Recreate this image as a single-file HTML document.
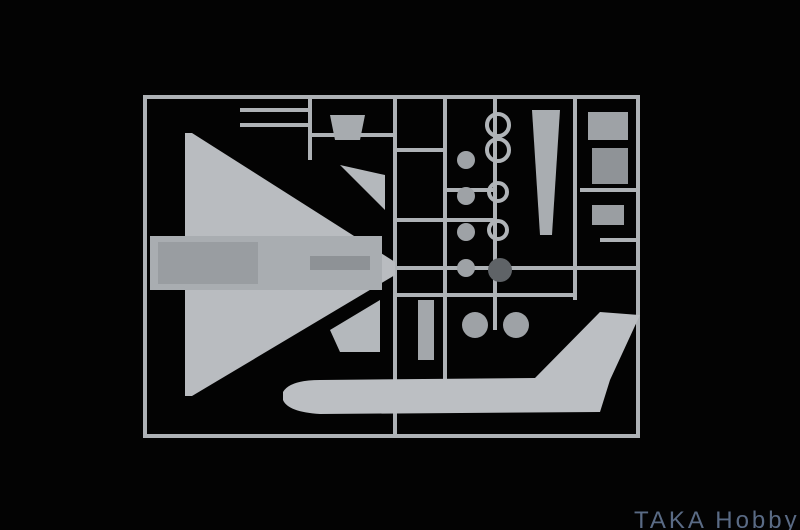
<!DOCTYPE html>
<html><head><style>
html,body{margin:0;padding:0;background:#000;}
svg{display:block}
</style></head><body>
<svg width="800" height="530" viewBox="0 0 800 530" xmlns="http://www.w3.org/2000/svg">
<rect width="800" height="530" fill="#030303"/>
<g stroke="#aeb2b6" stroke-width="4" fill="none">
<rect x="145" y="97" width="493" height="339"/>
<line x1="395" y1="97" x2="395" y2="436"/>
<line x1="445" y1="97" x2="445" y2="380"/>
<line x1="495" y1="97" x2="495" y2="330"/>
<line x1="575" y1="97" x2="575" y2="300"/>
<line x1="395" y1="268" x2="638" y2="268"/>
<line x1="395" y1="150" x2="445" y2="150"/>
<line x1="395" y1="220" x2="495" y2="220"/>
<line x1="395" y1="295" x2="575" y2="295"/>
<line x1="445" y1="190" x2="495" y2="190"/>
<line x1="310" y1="97" x2="310" y2="160"/>
<line x1="240" y1="110" x2="310" y2="110"/>
<line x1="240" y1="125" x2="310" y2="125"/>
<line x1="310" y1="135" x2="395" y2="135"/>
<line x1="380" y1="268" x2="395" y2="268"/>
<line x1="580" y1="190" x2="638" y2="190"/>
<line x1="600" y1="240" x2="638" y2="240"/>
</g>
<path d="M185 133 L192 133 L395 262 L395 275 L192 396 L185 396 Z" fill="#b9bcc0"/>
<rect x="150" y="236" width="232" height="54" fill="#a9adb1"/>
<rect x="158" y="242" width="100" height="42" fill="#999da1"/>
<rect x="310" y="256" width="60" height="14" fill="#8e9296"/>
<path d="M283 392 Q290 380 320 380 L535 378 L600 312 L640 315 L610 380 L600 412 L320 414 Q288 412 283 400 Z" fill="#bcbfc3"/>
<path d="M330 330 L380 300 L380 352 L340 352 Z" fill="#b4b8bc"/>
<path d="M340 165 L385 175 L385 210 Z" fill="#b4b8bc"/>
<path d="M330 115 L365 115 L360 140 L335 140 Z" fill="#a7abaf"/>
<g fill="#9ea2a6">
<circle cx="466" cy="160" r="9"/><circle cx="466" cy="196" r="9"/><circle cx="466" cy="232" r="9"/><circle cx="466" cy="268" r="9"/>
<circle cx="500" cy="270" r="12" fill="#5f6367"/>
<circle cx="475" cy="325" r="13"/><circle cx="516" cy="325" r="13"/>
</g>
<g fill="none" stroke="#b0b4b8" stroke-width="4">
<circle cx="498" cy="125" r="11"/><circle cx="498" cy="150" r="11"/>
<circle cx="498" cy="192" r="9"/><circle cx="498" cy="230" r="9"/>
</g>
<path d="M532 110 L560 110 L552 235 L540 235 Z" fill="#a9adb1"/>
<rect x="588" y="112" width="40" height="28" fill="#9ea2a6"/>
<rect x="592" y="148" width="36" height="36" fill="#8f9397"/>
<rect x="592" y="205" width="32" height="20" fill="#9a9ea2"/>
<rect x="418" y="300" width="16" height="60" fill="#a3a7ab"/>
<text x="634" y="528" font-family="Liberation Sans, sans-serif" font-size="24" letter-spacing="3" fill="#5a6b85">TAKA Hobby</text>
</svg>
</body></html>
